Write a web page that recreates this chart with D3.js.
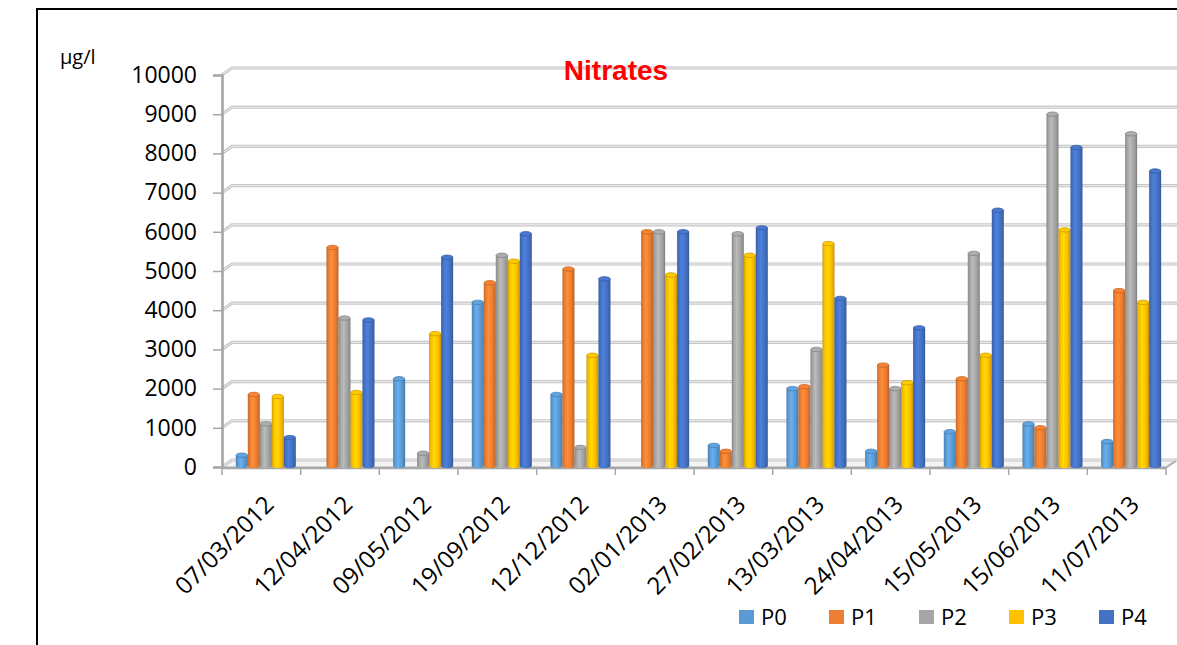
<!DOCTYPE html>
<html>
<head>
<meta charset="utf-8">
<script src="https://cdn.jsdelivr.net/npm/d3@7"></script>
<style>
  html, body { margin: 0; padding: 0; background: #fff; }
  svg { display: block; }
</style>
</head>
<body>
<svg id="chart" width="1177" height="645"></svg>
<script>
// Sampling dates (category axis)
const dates = ["07/03/2012", "12/04/2012", "09/05/2012", "19/09/2012", "12/12/2012", "02/01/2013",
               "27/02/2013", "13/03/2013", "24/04/2013", "15/05/2013", "15/06/2013", "11/07/2013"];

// Nitrate concentrations (µg/l) per sampling point
const seriesNames = ["P0", "P1", "P2", "P3", "P4"];
const P0 = [300, 0, 2250, 4200, 1850, 0, 550, 2000, 400, 900, 1100, 650];
const P1 = [1850, 5600, 0, 4700, 5050, 6000, 400, 2050, 2600, 2250, 1000, 4500];
const P2 = [1100, 3800, 350, 5400, 500, 6000, 5950, 3000, 2000, 5450, 9000, 8500];
const P3 = [1800, 1900, 3400, 5250, 2850, 4900, 5400, 5700, 2150, 2850, 6050, 4200];
const P4 = [750, 3750, 5350, 5950, 4800, 6000, 6100, 4300, 3550, 6550, 8150, 7550];
const seriesValues = [P0, P1, P2, P3, P4];
const seriesColors = ["#5B9BD5", "#ED7D31", "#A5A5A5", "#FFC000", "#4472C4"];

// Value axis ticks
const yTicks = [0, 1000, 2000, 3000, 4000, 5000, 6000, 7000, 8000, 9000, 10000];

const svg = d3.select("#chart");
const font = "'Open Sans', 'Liberation Sans', sans-serif";

// Outer chart frame
svg.append("rect")
  .attr("x", 37).attr("y", 9).attr("width", 1300).attr("height", 800)
  .attr("fill", "none").attr("stroke", "#000").attr("stroke-width", 2);

const x0 = 222, x1 = 1166;          // category axis extent (front)
const depthX = 10, depthY = -7;     // 3D wall offset
const y = d3.scaleLinear().domain([0, 10000]).range([467, 75]);
const x = d3.scaleBand().domain(dates).range([x0, x1]).padding(0);
const groupWidth = 60;
const groupOffset = 13.8;
const xs = d3.scaleBand().domain(seriesNames).range([0, groupWidth]).padding(0);

// Floor plane
const yBase = y(0);
svg.append("path")
  .attr("d", `M${x0},${yBase} L${x0 + depthX},${yBase + depthY} L${x1 + depthX},${yBase + depthY} L${x1},${yBase} Z`)
  .attr("fill", "#f4f4f4").attr("stroke", "#c4c4c4").attr("stroke-width", 1.2);

// Back-wall gridlines with their short depth segment
const grid = svg.append("g");
yTicks.forEach(v => {
  const yy = y(v);
  const d = `M${x0},${yy} L${x0 + depthX},${yy + depthY} L1180,${yy + depthY}`;
  grid.append("path").attr("d", d).attr("fill", "none")
    .attr("stroke", "#c6c6c6").attr("stroke-width", 3.2);
  grid.append("path").attr("d", d).attr("fill", "none")
    .attr("stroke", "#efefef").attr("stroke-width", 1);
});

// Value axis
const yAxis = d3.axisLeft(y).tickValues(yTicks).tickSize(9).tickPadding(16).tickFormat(d3.format("d"));
const gy = svg.append("g").attr("transform", `translate(${x0},0)`).call(yAxis);
gy.select(".domain").attr("stroke", "#a6a6a6").attr("stroke-width", 2.6);
gy.selectAll(".tick line").attr("stroke", "#a6a6a6").attr("stroke-width", 1.5);
gy.selectAll(".tick text").attr("font-family", font).attr("font-size", 23).attr("fill", "#000");

// Category axis line and ticks
const boundaries = d3.range(dates.length + 1).map(i => x0 + i * x.bandwidth());
svg.append("line")
  .attr("x1", x0).attr("x2", x1).attr("y1", yBase + 1).attr("y2", yBase + 1)
  .attr("stroke", "#a6a6a6").attr("stroke-width", 2.6);
svg.append("line")
  .attr("x1", x1).attr("y1", yBase + 1).attr("x2", x1 + depthX).attr("y2", yBase + depthY + 1)
  .attr("stroke", "#a6a6a6").attr("stroke-width", 1.5);
svg.append("g").selectAll("line").data(boundaries).join("line")
  .attr("x1", d => d).attr("x2", d => d)
  .attr("y1", yBase + 1).attr("y2", yBase + 8)
  .attr("stroke", "#a6a6a6").attr("stroke-width", 1.5);

// Cylinder shading gradients
const defs = svg.append("defs");
seriesColors.forEach((c, i) => {
  const base = d3.color(c);
  const g = defs.append("linearGradient").attr("id", "cyl" + i)
    .attr("x1", "0%").attr("x2", "100%").attr("y1", "0%").attr("y2", "0%");
  [[0, base.darker(0.7)], [0.12, base.darker(0.1)], [0.4, base.brighter(0.35)],
   [0.7, base], [0.9, base.darker(0.35)], [1, base.darker(0.9)]]
    .forEach(([o, col]) => g.append("stop").attr("offset", o).attr("stop-color", col.formatHex()));
});

// Bars as cylinders
const rx = xs.bandwidth() / 2;
const ry = 2.2;
const bars = svg.append("g");
seriesNames.forEach((name, si) => {
  const vals = seriesValues[si];
  const base = d3.color(seriesColors[si]);
  dates.forEach((dt, ci) => {
    const v = vals[ci];
    if (!v) return;
    const left = x(dt) + groupOffset + xs(name);
    const cx = left + rx;
    const top = y(v);
    const bottom = yBase - 1;
    bars.append("path")
      .attr("d", `M${left},${top} L${left},${bottom} A${rx},${ry} 0 0 0 ${left + 2 * rx},${bottom} L${left + 2 * rx},${top} Z`)
      .attr("fill", `url(#cyl${si})`);
    bars.append("ellipse")
      .attr("cx", cx).attr("cy", top).attr("rx", rx - 0.3).attr("ry", ry)
      .attr("fill", base.brighter(0.15).formatHex())
      .attr("stroke", base.darker(0.6).formatHex()).attr("stroke-width", 0.8);
  });
});

// Category labels, rotated
svg.append("g").selectAll("text").data(dates).join("text")
  .attr("transform", d => `translate(${x(d) + x.bandwidth() / 2 + 14},${506}) rotate(-45)`)
  .attr("text-anchor", "end")
  .attr("font-family", font).attr("font-size", 24).attr("fill", "#000")
  .text(d => d);

// Unit label
svg.append("text").attr("x", 60).attr("y", 64)
  .attr("font-family", font).attr("font-size", 20).attr("fill", "#000")
  .text("µg/l");

// Title
svg.append("text").attr("x", 616).attr("y", 80)
  .attr("text-anchor", "middle")
  .attr("font-family", "'Liberation Sans', Arial, sans-serif").attr("font-weight", "bold")
  .attr("font-size", 28).attr("fill", "#ff0000")
  .text("Nitrates");

// Legend
const legend = svg.append("g").selectAll("g").data(seriesNames).join("g")
  .attr("transform", (d, i) => `translate(${739 + i * 90},610)`);
legend.append("rect").attr("width", 15).attr("height", 14)
  .attr("fill", (d, i) => seriesColors[i]);
legend.append("text").attr("x", 22).attr("y", 14.5)
  .attr("font-family", font).attr("font-size", 22).attr("fill", "#000")
  .text(d => d);
</script>
</body>
</html>
